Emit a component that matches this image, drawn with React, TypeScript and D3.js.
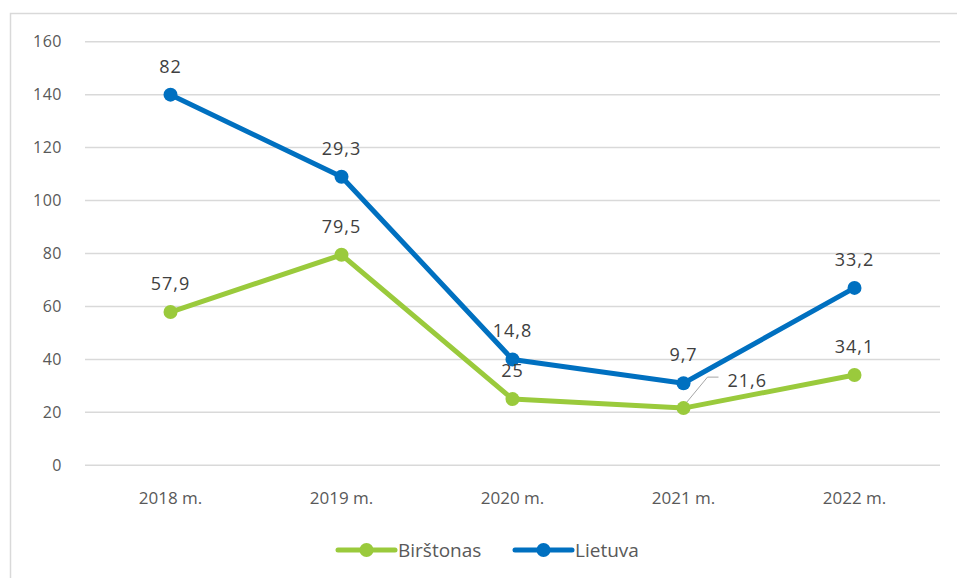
import { scaleLinear, scalePoint, line } from "d3";

const years = ["2018 m.", "2019 m.", "2020 m.", "2021 m.", "2022 m."];
const birstonas = [57.9, 79.5, 25, 21.6, 34.1];
const lietuva = [140, 109, 40, 31, 67];
const birstonasLabels = ["57,9", "79,5", "25", "21,6", "34,1"];
const lietuvaLabels = ["82", "29,3", "14,8", "9,7", "33,2"];
const yTicks = [0, 20, 40, 60, 80, 100, 120, 140, 160];

const GREEN = "#9ACA3C";
const BLUE = "#0070C0";
const TEXT = "#595959";
const FONT = "'Open Sans', 'Noto Sans', sans-serif";

const App = () => {
  const width = 957;
  const height = 578;
  const x = scalePoint<string>().domain(years).range([85, 940]).padding(0.5);
  const y = scaleLinear().domain([0, 160]).range([465.3, 41.7]);

  const mk = line<number>()
    .x((_, i) => x(years[i]) as number)
    .y(d => y(d));

  const series = [
    { name: "Birštonas", values: birstonas, labels: birstonasLabels, color: GREEN },
    { name: "Lietuva", values: lietuva, labels: lietuvaLabels, color: BLUE },
  ];

  return (
    <svg width={width} height={height} style={{ position: "absolute", left: 0, top: 0, fontFamily: FONT }}>
      <rect x={0} y={0} width={width} height={height} fill="#fff" />
      <path d={`M10.5,${height} V13.5 H${width}`} fill="none" stroke="#d9d9d9" strokeWidth={1.5} />
      {yTicks.map(t => (
        <g key={t}>
          <line x1={85} x2={940} y1={y(t)} y2={y(t)} stroke="#d9d9d9" strokeWidth={1.5} />
          <text x={62} y={y(t)} dy="0.35em" textAnchor="end" fontSize={16} fill={TEXT} letterSpacing={0.5}>{t}</text>
        </g>
      ))}
      {years.map(yr => (
        <text key={yr} x={x(yr)} y={504} textAnchor="middle" fontSize={17} fill={TEXT}>{yr}</text>
      ))}
      {/* leader line for 21,6 */}
      <path
        d={`M${x(years[3])},${y(birstonas[3]) - 2} L${(x(years[3]) as number) + 24},${y(birstonas[3]) - 31} H${(x(years[3]) as number) + 35}`}
        fill="none"
        stroke="#a6a6a6"
        strokeWidth={1}
      />
      {series.map(s => (
        <g key={s.name}>
          <path d={mk(s.values) || ""} fill="none" stroke={s.color} strokeWidth={5} strokeLinejoin="round" />
          {s.values.map((v, i) => (
            <circle key={i} cx={x(years[i])} cy={y(v)} r={7} fill={s.color} />
          ))}
        </g>
      ))}
      {series.map(s =>
        s.values.map((v, i) => {
          const isLeader = s.name === "Birštonas" && i === 3;
          const cx = x(years[i]) as number;
          return (
            <text
              key={s.name + i}
              x={isLeader ? cx + 44 : cx}
              y={isLeader ? y(v) - 21 : y(v) - 22}
              textAnchor={isLeader ? "start" : "middle"}
              fontSize={18}
              letterSpacing={1}
              fill="#404040"
            >
              {s.labels[i]}
            </text>
          );
        })
      )}
      {/* legend */}
      {series.map((s, i) => {
        const lx = i === 0 ? 338 : 515;
        return (
          <g key={s.name}>
            <line x1={lx} x2={lx + 57} y1={550} y2={550} stroke={s.color} strokeWidth={5} strokeLinecap="round" />
            <circle cx={lx + 28.5} cy={550} r={7} fill={s.color} />
            <text x={lx + 60} y={550} dy="0.35em" fontSize={19} fill={TEXT}>{s.name}</text>
          </g>
        );
      })}
    </svg>
  );
};

export default App;
